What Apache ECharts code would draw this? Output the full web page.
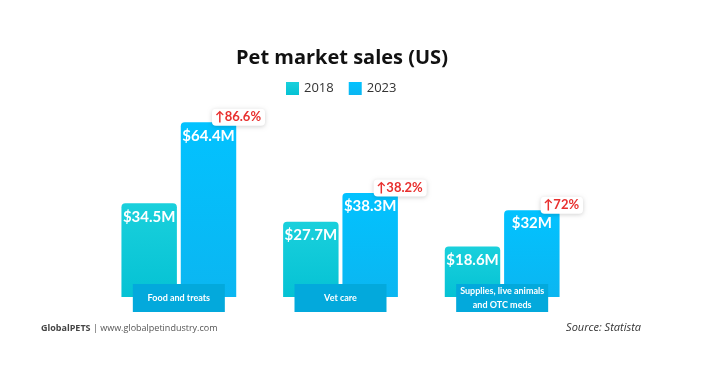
<!DOCTYPE html>
<html>
<head>
<meta charset="utf-8">
<script src="https://cdn.jsdelivr.net/npm/echarts@6/dist/echarts.min.js"></script>
<style>
  html, body { margin: 0; padding: 0; background: #fff; }
  #main { width: 705px; height: 376px; }
</style>
</head>
<body>
<div id="main"></div>
<script>
var categories = ['Food and treats', 'Vet care', 'Supplies, live animals\nand OTC meds'];
var sales2018 = [34.5, 27.7, 18.6];
var sales2023 = [64.4, 38.3, 32];
var growth = ['86.6%', '38.2%', '72%'];

var chart = echarts.init(document.getElementById('main'));

function grad(top, bottom) {
  return new echarts.graphic.LinearGradient(0, 0, 0, 1, [
    { offset: 0, color: top },
    { offset: 1, color: bottom }
  ]);
}

// 增长标签，挂在2023柱子右上角
var growthPoints = [];
for (var i = 0; i < categories.length; i++) {
  growthPoints.push({
    coord: [i, sales2023[i]],
    value: growth[i]
  });
}

var option = {
  backgroundColor: '#fff',
  animation: false,
  title: {
    text: 'Pet market sales (US)',
    left: 236,
    top: 48,
    padding: 0,
    textStyle: {
      fontFamily: 'Open Sans',
      fontWeight: 'bold',
      fontSize: 20,
      color: '#111'
    }
  },
  legend: {
    left: 286,
    top: 82,
    padding: 0,
    itemWidth: 13,
    itemHeight: 13,
    itemGap: 15,
    icon: 'rect',
    textStyle: { fontFamily: 'Open Sans', fontSize: 13, color: '#333' },
    data: ['2018', '2023']
  },
  grid: { left: 98, right: 122, top: 107, bottom: 79 },
  xAxis: {
    type: 'category',
    data: categories,
    z: 10,
    axisLine: { show: false },
    axisTick: { show: false },
    axisLabel: {
      margin: -13,
      interval: 0,
      backgroundColor: '#03a9dc',
      width: 92,
      align: 'center',
      formatter: function (v) {
        var lines = v.split('\n');
        if (lines.length > 1) {
          return lines.map(function (l) { return '{m|' + l + '}'; }).join('\n');
        }
        return '{s|' + v + '}';
      },
      rich: {
        s: { color: '#fff', fontFamily: 'Lato', fontWeight: 'bold', fontSize: 9, lineHeight: 28, align: 'center' },
        m: { color: '#fff', fontFamily: 'Lato', fontWeight: 'bold', fontSize: 9, lineHeight: 14, align: 'center' }
      }
    }
  },
  yAxis: {
    type: 'value',
    min: 0,
    max: 70,
    show: false,
    splitLine: { show: false }
  },
  series: [
    {
      name: '2018',
      type: 'bar',
      data: sales2018,
      barGap: '7%',
      barCategoryGap: '29%',
      color: '#17ccd9',
      itemStyle: { color: grad('#1ad0dc', '#05c2d4'), borderRadius: [4, 4, 0, 0] },
      label: {
        show: true,
        position: 'insideTop',
        distance: 6,
        formatter: function (p) { return '$' + p.value + 'M'; },
        color: '#fff',
        fontFamily: 'Lato',
        fontWeight: 'bold',
        fontSize: 15
      }
    },
    {
      name: '2023',
      type: 'bar',
      data: sales2023,
      color: '#00bfff',
      itemStyle: { color: grad('#02c2ff', '#0bb6f1'), borderRadius: [4, 4, 0, 0] },
      label: {
        show: true,
        position: 'insideTop',
        distance: 6,
        formatter: function (p) { return '$' + p.value + 'M'; },
        color: '#fff',
        fontFamily: 'Lato',
        fontWeight: 'bold',
        fontSize: 15
      },
      markPoint: {
        symbol: 'circle',
        symbolSize: 0,
        data: growthPoints,
        label: {
          show: true,
          position: 'inside',
          offset: [30, -5],
          formatter: function (p) { return '↑' + p.value; },
          color: '#e8302f',
          fontFamily: 'Lato',
          fontWeight: 'bold',
          fontSize: 13,
          backgroundColor: '#fff',
          borderRadius: 4,
          padding: [2, 4, 2, 3],
          shadowColor: 'rgba(0,0,0,0.18)',
          shadowBlur: 4,
          shadowOffsetY: 1
        }
      }
    }
  ],
  graphic: [
    {
      type: 'text',
      left: 41,
      top: 324,
      style: {
        text: '{b|GlobalPETS} | www.globalpetindustry.com',
        fill: '#555',
        font: '9px "Open Sans"',
        rich: { b: { fontWeight: 'bold', fontSize: 9, fontFamily: 'Open Sans', fill: '#444' } }
      }
    },
    {
      type: 'text',
      right: 64,
      top: 322,
      style: {
        text: 'Source: Statista',
        fill: '#333',
        font: 'italic 11px "Open Sans"'
      }
    }
  ]
};

chart.setOption(option);
</script>
</body>
</html>
